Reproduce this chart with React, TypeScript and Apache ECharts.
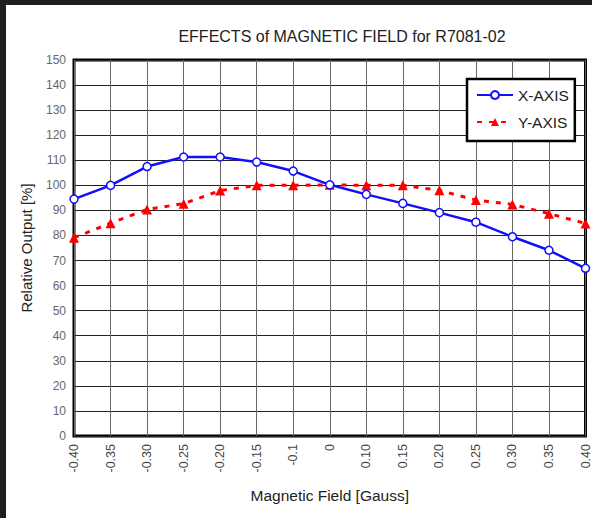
import React, { useEffect, useRef } from "react";
import * as echarts from "echarts";

const fieldLabels = ["-0.40", "-0.35", "-0.30", "-0.25", "-0.20", "-0.15", "-0.1", "0", "0.10", "0.15", "0.20", "0.25", "0.30", "0.35", "0.40"];
const xAxisOutput = [94.5, 100, 107.5, 111.3, 111.3, 109.3, 105.7, 100.2, 96.4, 92.8, 89.1, 85.3, 79.5, 74.1, 66.9];
const yAxisOutput = [79.1, 84.9, 90.4, 92.7, 97.9, 100, 100, 100.2, 100, 100, 98, 94.1, 92.4, 88.7, 84.8];
const seriesNames = ["X-AXIS", "Y-AXIS"];

const FONT = "'Liberation Sans', Arial, sans-serif";

export default function App() {
  const ref = useRef<HTMLDivElement>(null);
  useEffect(() => {
    if (!ref.current) return;
    const chart = echarts.init(ref.current, null, { renderer: "svg" });
    chart.setOption({
      animation: false,
      backgroundColor: "#ffffff",
      textStyle: { fontFamily: FONT },
      title: {
        text: "EFFECTS of MAGNETIC FIELD for R7081-02",
        left: 331,
        top: 18,
        textAlign: "center",
        textStyle: { fontFamily: FONT, fontSize: 16, fontWeight: "normal", color: "#222" },
      },
      grid: {
        left: 68,
        right: 3,
        top: 55,
        bottom: 82,
        show: true,
        borderColor: "#000",
        borderWidth: 3,
        backgroundColor: "transparent",
      },
      legend: {
        left: 461,
        top: 74,
        orient: "vertical",
        padding: [8, 6, 11, 9],
        itemGap: 11,
        itemWidth: 36,
        itemHeight: 10,
        backgroundColor: "#fff",
        borderColor: "#000",
        borderWidth: 2.5,
        textStyle: { fontFamily: FONT, fontSize: 15.5, color: "#222" },
        data: seriesNames,
      },
      xAxis: {
        type: "category",
        data: fieldLabels,
        boundaryGap: false,
        name: "Magnetic Field [Gauss]",
        nameLocation: "middle",
        nameGap: 51,
        nameTextStyle: { fontFamily: FONT, fontSize: 15.5, color: "#222" },
        axisLine: { show: false },
        axisTick: { show: false },
        axisLabel: { rotate: 90, interval: 0, fontSize: 12.5, color: "#444", margin: 8, fontFamily: FONT },
        splitLine: { show: true, interval: 0, lineStyle: { color: "#666", width: 1 } },
      },
      yAxis: {
        type: "value",
        min: 0,
        max: 150,
        interval: 10,
        name: "Relative Output [%]",
        nameLocation: "middle",
        nameGap: 40,
        nameTextStyle: { fontFamily: FONT, fontSize: 15, color: "#222" },
        axisLine: { show: false },
        axisTick: { show: false },
        axisLabel: { fontSize: 12, color: "#666", margin: 8, fontFamily: FONT },
        splitLine: { show: true, lineStyle: { color: "#222", width: 1 } },
      },
      series: [
        {
          name: seriesNames[0],
          type: "line",
          data: xAxisOutput,
          symbol: "circle",
          symbolSize: 8,
          z: 3,
          lineStyle: { color: "#1010ff", width: 2.5 },
          itemStyle: { color: "#fff", borderColor: "#1010ff", borderWidth: 1.5 },
        },
        {
          name: seriesNames[1],
          type: "line",
          data: yAxisOutput,
          symbol: "triangle",
          symbolSize: 10,
          z: 2,
          lineStyle: { color: "#ff0000", width: 3, type: [5, 7] },
          itemStyle: { color: "#ff0000" },
        },
      ],
    });
    return () => chart.dispose();
  }, []);
  return (
    <div style={{ position: "fixed", left: 0, top: 0, width: 592, height: 518, background: "#1e1e1e" }}>
      <div ref={ref} style={{ position: "absolute", left: 6, top: 5, width: 586, height: 513 }} />
    </div>
  );
}
